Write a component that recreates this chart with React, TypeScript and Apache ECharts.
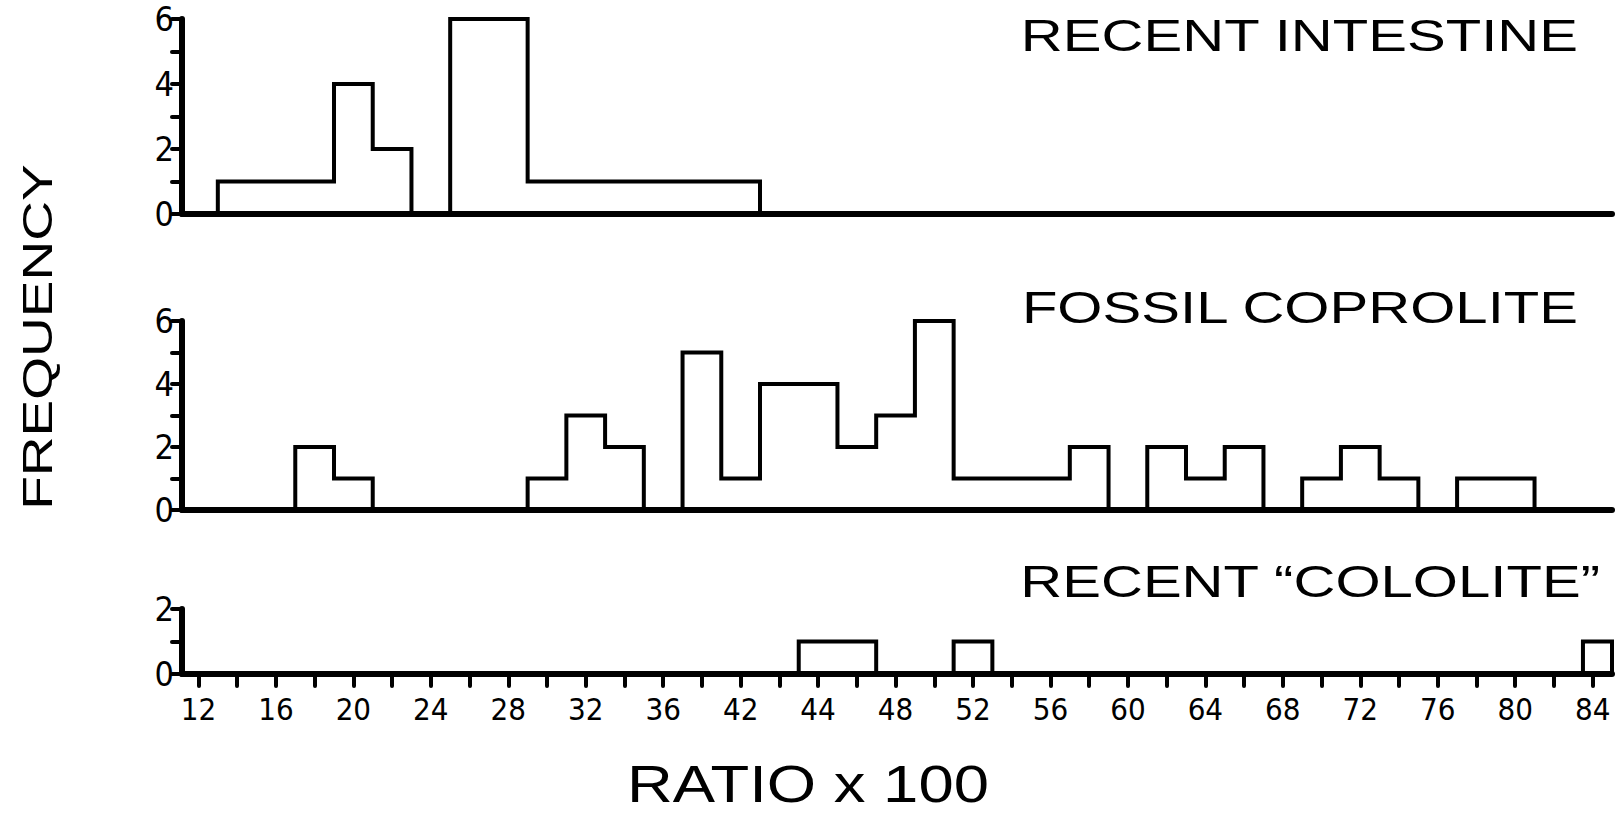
import React, { useEffect, useRef } from "react";
import * as echarts from "echarts";

// ---- data ----
const xTickValues = [12, 16, 20, 24, 28, 32, 36, 40, 44, 48, 52, 56, 60, 64, 68, 72, 76, 80, 84];
const xTickLabels = ["12", "16", "20", "24", "28", "32", "36", "42", "44", "48", "52", "56", "60", "64", "68", "72", "76", "80", "84"];
const xMinorTicks = [12, 14, 16, 18, 20, 22, 24, 26, 28, 30, 32, 34, 36, 38, 40, 42, 44, 46, 48, 50, 52, 54, 56, 58, 60, 62, 64, 66, 68, 70, 72, 74, 76, 78, 80, 82, 84];

const intestineEdges = [13, 19, 21, 23, 25, 29, 41];
const intestineCounts = [1, 4, 2, 0, 6, 1];

const coproliteEdges = [17, 19, 21, 29, 31, 33, 35, 37, 39, 41, 45, 47, 49, 51, 57, 59, 61, 63, 65, 67, 69, 71, 73, 75, 77, 81];
const coproliteCounts = [2, 1, 0, 1, 3, 2, 0, 5, 1, 4, 2, 3, 6, 1, 2, 0, 2, 1, 2, 0, 1, 2, 1, 0, 1];

const cololiteEdges = [43, 47, 51, 53, 83.5, 85];
const cololiteCounts = [1, 0, 1, 0, 1];

const panelTitles = ["RECENT INTESTINE", "FOSSIL COPROLITE", "RECENT \u201CCOLOLITE\u201D"];
const yMaxes = [6, 6, 2];

const FONT = "'Liberation Sans', Arial, sans-serif";
const NUM_FONT = "'DejaVu Sans Condensed', 'Liberation Sans Narrow', 'Liberation Sans', sans-serif";

function outlineRuns(edges: number[], counts: number[]) {
  const runs: number[][][] = [];
  let cur: number[][] | null = null;
  counts.forEach((c, i) => {
    if (c > 0) {
      if (!cur) cur = [[edges[i], 0]];
      cur.push([edges[i], c], [edges[i + 1], c]);
    } else if (cur) {
      cur.push([edges[i], 0]);
      runs.push(cur);
      cur = null;
    }
  });
  if (cur) {
    (cur as number[][]).push([edges[edges.length - 1], 0]);
    runs.push(cur);
  }
  return runs;
}

export default function App() {
  const ref = useRef<HTMLDivElement>(null);

  useEffect(() => {
    if (!ref.current) return;
    const chart = echarts.init(ref.current, undefined, { renderer: "svg" });

    const grids = [
      { left: 182, width: 1430, top: 19, height: 195 },
      { left: 182, width: 1430, top: 321, height: 189 },
      { left: 182, width: 1430, top: 609, height: 65 },
    ];

    const xAxes = grids.map((_, i) => {
      const bottom = i === 2;
      return {
        type: "value",
        gridIndex: i,
        min: 11.15,
        max: 85,
        splitLine: { show: false },
        axisLine: { show: true, lineStyle: { color: "#000", width: 6, cap: "round" } },
        axisTick: bottom
          ? { show: true, customValues: xMinorTicks, length: 12, lineStyle: { color: "#000", width: 4, cap: "round" } }
          : { show: false },
        axisLabel: bottom
          ? {
              show: true,
              customValues: xTickValues,
              margin: 19,
              color: "#000",
              fontSize: 31,
              fontFamily: NUM_FONT,
              formatter: (v: number) => {
                const k = xTickValues.indexOf(v);
                return k >= 0 ? xTickLabels[k] : "";
              },
            }
          : { show: false },
      };
    });

    const yAxes = grids.map((_, i) => ({
      type: "value",
      gridIndex: i,
      min: 0,
      max: yMaxes[i],
      interval: 1,
      splitLine: { show: false },
      axisLine: { show: true, lineStyle: { color: "#000", width: 6, cap: "round" } },
      axisTick: { show: true, length: 10, lineStyle: { color: "#000", width: 4, cap: "round" } },
      axisLabel: {
        margin: 8,
        color: "#000",
        fontSize: 34,
        fontFamily: NUM_FONT,
        formatter: (v: number) => (v % 2 === 0 ? String(v) : ""),
      },
    }));

    const panels = [
      outlineRuns(intestineEdges, intestineCounts),
      outlineRuns(coproliteEdges, coproliteCounts),
      outlineRuns(cololiteEdges, cololiteCounts),
    ];

    const series: any[] = [];
    panels.forEach((runs, i) => {
      runs.forEach((run) => {
        series.push({
          type: "line",
          xAxisIndex: i,
          yAxisIndex: i,
          data: run,
          symbol: "none",
          silent: true,
          clip: false,
          lineStyle: { color: "#000", width: 4, join: "miter", cap: "square" },
          z: 3,
        });
      });
    });

    const titleRight = [1578, 1578, 1600];
    const titleY = [36, 308, 582];

    const graphic: any[] = panelTitles.map((t, i) => ({
      type: "text",
      x: titleRight[i],
      y: titleY[i],
      scaleX: 1.32,
      style: {
        text: t,
        fill: "#000",
        font: `44px ${FONT}`,
        align: "right",
        verticalAlign: "middle",
      },
    }));

    graphic.push({
      type: "text",
      x: 37,
      y: 337,
      rotation: Math.PI / 2,
      scaleX: 1.28,
      style: {
        text: "FREQUENCY",
        fill: "#000",
        font: `43px ${FONT}`,
        align: "center",
        verticalAlign: "middle",
      },
    });

    graphic.push({
      type: "text",
      x: 808,
      y: 784,
      scaleX: 1.22,
      style: {
        text: "RATIO x 100",
        fill: "#000",
        font: `52px ${FONT}`,
        align: "center",
        verticalAlign: "middle",
      },
    });

    chart.setOption({
      animation: false,
      backgroundColor: "#fff",
      grid: grids,
      xAxis: xAxes,
      yAxis: yAxes,
      series,
      graphic,
    });

    return () => chart.dispose();
  }, []);

  return (
    <div
      ref={ref}
      style={{ position: "fixed", left: 0, top: 0, width: 1619, height: 813, background: "#fff" }}
    />
  );
}
